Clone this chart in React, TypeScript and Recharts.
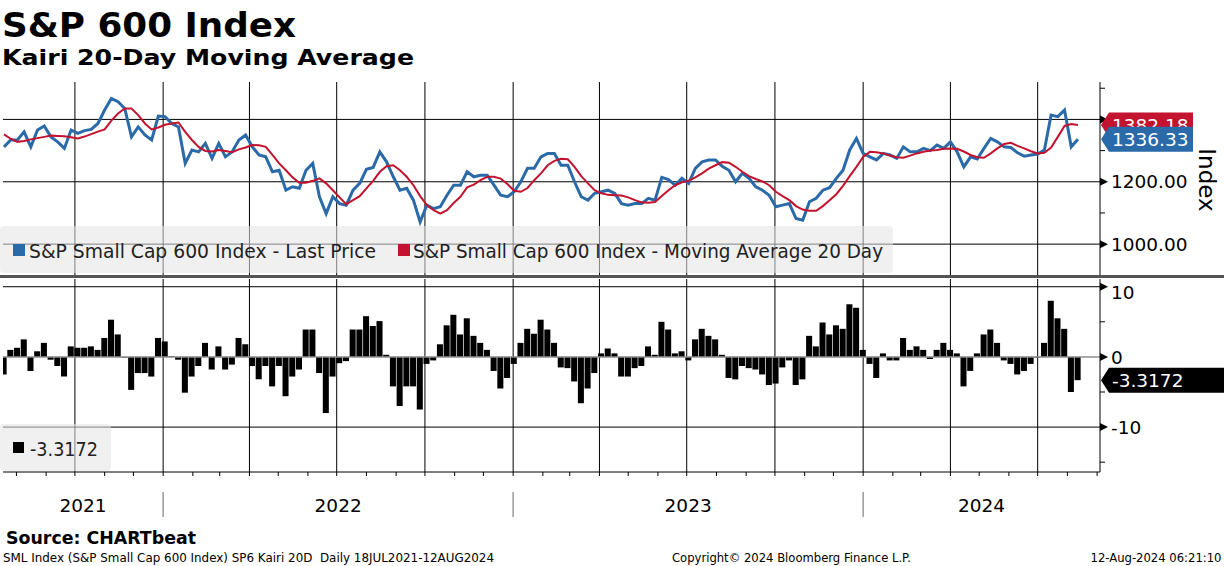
import React from "react";
import { Bar, ComposedChart, Line, ReferenceLine, XAxis, YAxis } from "recharts";

const FONT = "DejaVu Sans, Verdana, sans-serif";

// time axis: days since the left edge of the chart
const AXIS_START = "2021-07-18";
const FIRST_WEEK = "2021-07-19";
const AXIS_END_DAY = 1144;

// weekly closes of the S&P Small Cap 600
const price = [
  1312, 1334, 1334, 1360, 1312, 1366, 1379, 1344, 1328, 1307,
  1366, 1355, 1364, 1368, 1387, 1430, 1467, 1457, 1435, 1344,
  1376, 1350, 1334, 1411, 1409, 1387, 1376, 1259, 1302, 1296,
  1323, 1275, 1323, 1280, 1296, 1334, 1350, 1312, 1286, 1280,
  1232, 1237, 1173, 1184, 1179, 1237, 1259, 1152, 1098, 1152,
  1130, 1125, 1173, 1195, 1240, 1246, 1296, 1264, 1216, 1173,
  1179, 1141, 1071, 1125, 1114, 1120, 1157, 1189, 1189, 1232,
  1216, 1221, 1221, 1189, 1157, 1152, 1168, 1200, 1243, 1243,
  1280, 1291, 1291, 1253, 1253, 1200, 1152, 1141, 1163, 1168,
  1173, 1163, 1130, 1125, 1130, 1130, 1147, 1141, 1214, 1207,
  1189, 1211, 1195, 1243, 1264, 1270, 1270, 1250, 1237, 1200,
  1227, 1211, 1184, 1173, 1157, 1120, 1125, 1130, 1082, 1077,
  1136, 1147, 1173, 1181, 1211, 1237, 1302, 1339, 1291, 1280,
  1270, 1291, 1286, 1275, 1312, 1296, 1296, 1307, 1300, 1318,
  1307, 1328, 1296, 1248, 1280, 1273, 1307, 1339, 1328, 1312,
  1310, 1293, 1282, 1286, 1289, 1302, 1414, 1409, 1430, 1312,
  1336.33,
];

// 20 day moving average
const ma20 = [
  1352, 1338, 1328, 1331, 1336, 1340, 1344, 1348, 1347, 1346,
  1343, 1339, 1345, 1353, 1361, 1368, 1396, 1419, 1435, 1435,
  1414, 1387, 1368, 1374, 1383, 1387, 1390, 1360, 1334, 1312,
  1299, 1297, 1302, 1299, 1295, 1304, 1310, 1318, 1317, 1312,
  1286, 1259, 1237, 1214, 1197, 1197, 1203, 1211, 1195, 1173,
  1150, 1128, 1141, 1154, 1179, 1203, 1232, 1250, 1253, 1237,
  1216, 1189, 1154, 1125, 1109, 1098, 1109, 1132, 1152, 1182,
  1191, 1205, 1216, 1216, 1210, 1193, 1171, 1168, 1180, 1205,
  1227, 1253, 1267, 1274, 1272, 1248, 1218, 1195, 1173, 1163,
  1158, 1157, 1156, 1150, 1141, 1134, 1133, 1135, 1154, 1173,
  1189, 1198, 1203, 1214, 1227, 1242, 1253, 1263, 1261, 1248,
  1232, 1218, 1209, 1201, 1189, 1168, 1154, 1141, 1122, 1111,
  1107, 1107, 1122, 1141, 1160, 1187, 1218, 1248, 1280, 1296,
  1295, 1291, 1284, 1279, 1277, 1284, 1291, 1296, 1300, 1302,
  1306, 1307, 1306, 1297, 1286, 1279, 1277, 1291, 1307, 1321,
  1325, 1315, 1307, 1298, 1291, 1293, 1310, 1344, 1379, 1385,
  1382.18,
];

// Kairi 20D (% distance from the moving average)
const kairi = [
  -2.5, 1.0, 1.3, 2.5, -2.0, 0.8, 2.0, -0.4, -1.3, -2.8,
  1.5, 1.3, 1.3, 1.5, 1.0, 2.7, 5.3, 3.2, -0.1, -4.7,
  -2.3, -2.3, -2.8, 2.7, 2.2, 0.1, -0.4, -5.1, -2.8, -1.3,
  2.0, -1.8, 1.5, -1.8, -1.1, 2.7, 1.8, -1.3, -3.2, -1.3,
  -4.2, -1.3, -5.6, -2.8, -1.8, 3.9, 3.9, -2.3, -8.0, -2.8,
  -0.9, -0.6, 3.9, 3.9, 5.8, 4.4, 5.1, 0.3, -4.2, -7.0,
  -4.2, -4.2, -7.5, -1.0, -0.5, 1.8, 4.5, 6.0, 3.2, 5.5,
  3.0, 2.0, 1.0, -2.0, -4.5, -3.0, -1.0, 2.0, 4.0, 3.3,
  5.3, 3.9, 2.0, -1.5, -1.6, -3.5, -6.6, -4.5, -2.3, 0.5,
  1.2, 0.5, -2.8, -2.8, -1.6, -1.3, 1.5, 0.3, 5.0, 3.9,
  0.5, 0.8, -0.5, 2.5, 4.0, 3.0, 2.5, 0.3, -3.0, -3.2,
  -1.3, -1.6, -1.8, -2.5, -4.0, -3.8, -1.5, -0.5, -4.0, -3.2,
  3.0, 1.5, 4.9, 3.2, 4.5, 4.0, 7.5, 7.0, 1.0, -1.0,
  -3.0, 0.5, -0.5, -0.5, 2.7, 1.0, 1.5, 1.0, -0.3, 1.0,
  2.0, 1.0, 0.5, -4.2, -2.0, 0.5, 3.2, 3.9, 2.0, -0.5,
  -1.0, -2.5, -2.0, -1.0, -0.1, 2.0, 8.0, 5.5, 4.0, -5.0,
  -3.3172,
];

const quarterStarts = [
  "2021-10-01", "2022-01-01", "2022-04-01", "2022-07-01", "2022-10-01", "2023-01-01",
  "2023-04-01", "2023-07-01", "2023-10-01", "2024-01-01", "2024-04-01", "2024-07-01",
];
const yearStarts = ["2022-01-01", "2023-01-01", "2024-01-01"];
const yearLabels = ["2021", "2022", "2023", "2024"];
const priceTicks = [1000, 1100, 1200, 1300, 1400, 1500];
const kairiTicks = [-15, -10, -5, 0, 5, 10];

const BLUE = "#2b6aa8";
const RED = "#c3132e";

function dayOf(iso: string) {
  return (Date.parse(iso + "T00:00:00Z") - Date.parse(AXIS_START + "T00:00:00Z")) / 86400000;
}

const firstT = dayOf(FIRST_WEEK);
const rows = price.map((p, i) => ({ t: firstT + 7 * i, price: p, ma: ma20[i], kairi: kairi[i] }));
const last = rows[rows.length - 1];

const quarterT = quarterStarts.map(dayOf);
const yearSepT = yearStarts.map(dayOf);
const yearBounds = [0, ...yearSepT, AXIS_END_DAY];
const yearMidT = yearLabels.map((_, i) => (yearBounds[i] + yearBounds[i + 1]) / 2);

const monthT: number[] = [];
for (let y = 2021; y <= 2024; y++) {
  for (let m = 1; m <= 12; m++) {
    const d = dayOf(`${y}-${String(m).padStart(2, "0")}-01`);
    if (d > 0 && d <= AXIS_END_DAY) monthT.push(d);
  }
}
const bottomTicks = [...monthT, ...yearMidT].sort((a, b) => a - b);

// last-value flags are drawn as extra ticks so they sit on top of the axis labels
const priceAxisTicks = [...priceTicks, last.ma, last.price];
const kairiAxisTicks = [...kairiTicks, last.kairi];

function flag(x: number, cy: number, text: string, fill: string, w: number) {
  const h = 25;
  return (
    <g>
      <path
        d={`M${x + 1},${cy} L${x + 9},${cy - h / 2} L${x + w},${cy - h / 2} L${x + w},${cy + h / 2} L${x + 9},${cy + h / 2} Z`}
        fill={fill}
      />
      <text x={x + 12} y={cy} dy="0.36em" fill="#fff" fontSize={18.5} fontFamily={FONT}>
        {text}
      </text>
    </g>
  );
}

function arrowTick(x: number, y: number, label: string, dy = 0) {
  return (
    <g>
      <path d={`M${x},${y - 4} L${x + 8},${y} L${x},${y + 4} Z`} fill="#000" />
      <text x={x + 11} y={y + dy} dy="0.36em" fontSize={18.5} fontFamily={FONT} fill="#000">
        {label}
      </text>
    </g>
  );
}

const renderPriceTick = (props: any) => {
  const { x, y, payload, index } = props;
  const v = payload.value;
  if (index === priceTicks.length) return flag(x, y, last.ma.toFixed(2), RED, 93);
  if (index === priceTicks.length + 1) return flag(x, y, last.price.toFixed(2), BLUE, 93);
  if (v % 200 !== 0) return <line x1={x} x2={x + 5} y1={y} y2={y} stroke="#000" />;
  return arrowTick(x, y, v.toFixed(2));
};

const renderKairiTick = (props: any) => {
  const { x, y, payload, index } = props;
  const v = payload.value;
  if (index === kairiTicks.length) return flag(x, y, last.kairi.toFixed(4), "#000", 124);
  if (v % 10 !== 0) return <line x1={x} x2={x + 5} y1={y} y2={y} stroke="#000" />;
  const shift = v === kairiTicks[kairiTicks.length - 1] ? 6 : 0;
  return arrowTick(x, y, String(v), shift);
};

const renderBottomTick = (props: any) => {
  const { x, y, payload } = props;
  const v = payload.value;
  const yi = yearMidT.indexOf(v);
  if (yi >= 0) {
    return (
      <text x={x} y={y + 39.5} textAnchor="middle" fontSize={18.5} fontFamily={FONT} fill="#000">
        {yearLabels[yi]}
      </text>
    );
  }
  return (
    <g>
      <line x1={x} x2={x} y1={y} y2={y + 4} stroke="#000" />
      {yearSepT.includes(v) && <line x1={x} x2={x} y1={y + 20} y2={y + 45} stroke="#999" strokeWidth={1.5} />}
    </g>
  );
};

export default function App() {
  return (
    <div style={{ position: "absolute", left: 0, top: 0, width: 1224, height: 566, background: "#fff", fontFamily: FONT }}>
      {/* price panel */}
      <div style={{ position: "absolute", left: 0, top: 0 }}>
        <ComposedChart width={1224} height={276} data={rows} margin={{ top: 82, right: 0, bottom: 1, left: 3 }}>
          <XAxis dataKey="t" type="number" domain={[0, AXIS_END_DAY]} hide allowDataOverflow />
          <YAxis
            orientation="right"
            width={124}
            domain={[901, 1520]}
            ticks={priceAxisTicks}
            interval={0}
            tick={renderPriceTick}
            tickLine={false}
            tickSize={0}
            tickMargin={0}
            axisLine={{ stroke: "#000" }}
            allowDataOverflow
          />
          {quarterT.map((q) => (
            <ReferenceLine key={`q${q}`} x={q} stroke="#000" strokeWidth={1} />
          ))}
          {priceTicks
            .filter((v) => v % 200 === 0)
            .map((v) => (
              <ReferenceLine key={`h${v}`} y={v} stroke="#000" strokeWidth={1} />
            ))}
          <Line type="linear" dataKey="price" stroke={BLUE} strokeWidth={3} dot={false} isAnimationActive={false} />
          <Line type="linear" dataKey="ma" stroke={RED} strokeWidth={2} dot={false} isAnimationActive={false} />
        </ComposedChart>
      </div>

      {/* Kairi panel */}
      <div style={{ position: "absolute", left: 0, top: 278 }}>
        <ComposedChart width={1224} height={250} data={rows} margin={{ top: 1, right: 0, bottom: 0, left: 3 }}>
          <XAxis
            dataKey="t"
            type="number"
            domain={[0, AXIS_END_DAY]}
            ticks={bottomTicks}
            interval={0}
            tick={renderBottomTick}
            tickLine={false}
            tickSize={0}
            tickMargin={0}
            axisLine={{ stroke: "#000" }}
            height={56}
            allowDataOverflow
          />
          <YAxis
            orientation="right"
            width={124}
            domain={[-16.4, 11.1]}
            ticks={kairiAxisTicks}
            interval={0}
            tick={renderKairiTick}
            tickLine={false}
            tickSize={0}
            tickMargin={0}
            axisLine={{ stroke: "#000" }}
            allowDataOverflow
          />
          {quarterT.map((q) => (
            <ReferenceLine key={`kq${q}`} x={q} stroke="#000" strokeWidth={1} />
          ))}
          <ReferenceLine y={10} stroke="#000" />
          <ReferenceLine y={-10} stroke="#000" />
          <Bar dataKey="kairi" fill="#000" barSize={7} isAnimationActive={false} />
          <ReferenceLine y={0} stroke="#8c8c8c" strokeWidth={1.5} />
        </ComposedChart>
      </div>

      {/* titles, legends, footer */}
      <svg width={1224} height={566} style={{ position: "absolute", left: 0, top: 0, pointerEvents: "none" }}>
        <text x={2} y={36.5} fontSize={34} fontWeight="bold" fontFamily={FONT} textLength={294} lengthAdjust="spacingAndGlyphs">
          S&amp;P 600 Index
        </text>
        <text x={2} y={65} fontSize={22} fontWeight="bold" fontFamily={FONT} textLength={412} lengthAdjust="spacingAndGlyphs">
          Kairi 20-Day Moving Average
        </text>

        <rect x={0} y={226} width={893} height={47} rx={4} fill="rgba(228,228,228,0.57)" />
        <rect x={13} y={244} width={12} height={12} fill={BLUE} />
        <text x={29} y={258.3} fontSize={19} fontFamily={FONT} fill="#222" textLength={347} lengthAdjust="spacingAndGlyphs">
          S&amp;P Small Cap 600 Index - Last Price
        </text>
        <rect x={398} y={244} width={12} height={12} fill={RED} />
        <text x={413} y={258.3} fontSize={19} fontFamily={FONT} fill="#222" textLength={470} lengthAdjust="spacingAndGlyphs">
          S&amp;P Small Cap 600 Index - Moving Average 20 Day
        </text>

        <rect x={0} y={275} width={1224} height={3} fill="#555" />

        <rect x={0} y={424} width={111} height={47} rx={4} fill="rgba(228,228,228,0.57)" />
        <rect x={13} y={442} width={11} height={11} fill="#000" />
        <text x={30} y={456} fontSize={19} fontFamily={FONT} fill="#222" textLength={68} lengthAdjust="spacingAndGlyphs">
          {last.kairi.toFixed(4)}
        </text>

        <text x={1199} y={180} fontSize={23} fontFamily={FONT} textAnchor="middle" transform="rotate(90 1199 180)">
          Index
        </text>

        <text x={6} y={543.5} fontSize={17} fontWeight="bold" fontFamily={FONT} textLength={190} lengthAdjust="spacingAndGlyphs">
          Source: CHARTbeat
        </text>
        <text x={3} y={561.5} fontSize={12} fontFamily={FONT} textLength={491} lengthAdjust="spacingAndGlyphs" style={{ whiteSpace: "pre" }}>
          {"SML Index (S&P Small Cap 600 Index) SP6 Kairi 20D  Daily 18JUL2021-12AUG2024"}
        </text>
        <text x={672} y={561.5} fontSize={12} fontFamily={FONT} textLength={239} lengthAdjust="spacingAndGlyphs">
          Copyright© 2024 Bloomberg Finance L.P.
        </text>
        <text x={1221.5} y={561.5} fontSize={12} fontFamily={FONT} textAnchor="end" textLength={131} lengthAdjust="spacingAndGlyphs">
          12-Aug-2024 06:21:10
        </text>
      </svg>
    </div>
  );
}
